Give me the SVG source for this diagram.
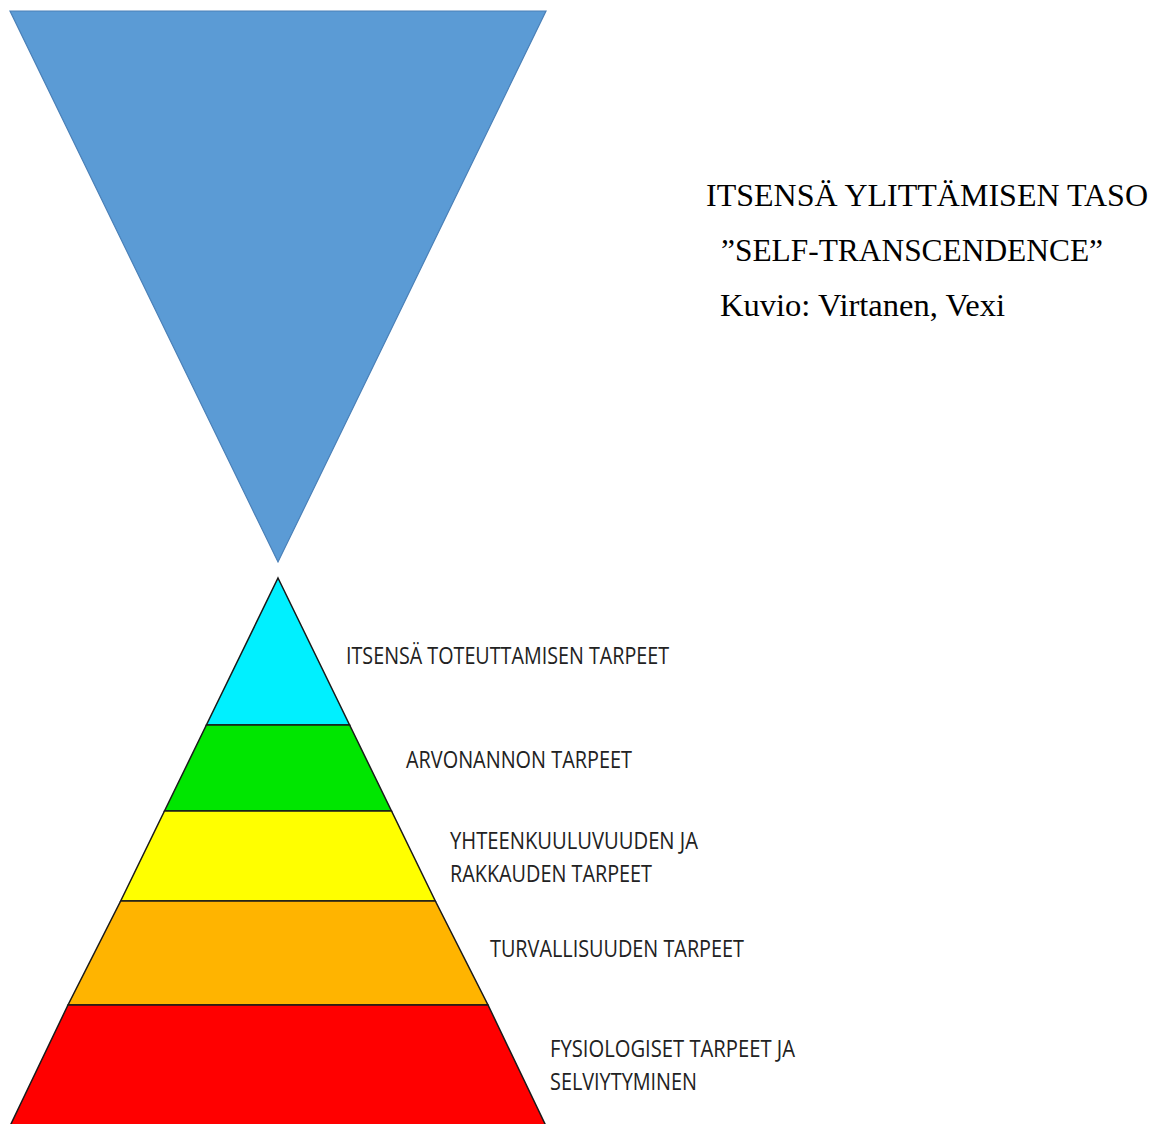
<svg xmlns="http://www.w3.org/2000/svg" width="1154" height="1124" viewBox="0 0 1154 1124">
<style>
.band{stroke:#1a1a1a;stroke-width:1.5;stroke-linejoin:miter}
.lbl{font-family:"Open Sans","DejaVu Sans",sans-serif;font-size:24px;fill:#222}
.ttl{font-family:"Liberation Serif","Times New Roman",serif;font-size:32px;fill:#000}
</style>
<rect width="1154" height="1124" fill="#fff"/>
<g id="inverted-triangle">
<polygon points="10,11 546,11 278,562" fill="#5B9BD5" stroke="#4A80B8" stroke-width="1.2"/>
</g>
<g id="pyramid">
<g id="level5"><polygon class="band" points="278,578 349.6,725 206.4,725" fill="#00F0FF"/></g>
<g id="level4"><polygon class="band" points="206.4,725 349.6,725 391.5,811 164.5,811" fill="#00E600"/></g>
<g id="level3"><polygon class="band" points="164.5,811 391.5,811 435.3,901 120.7,901" fill="#FFFF00"/></g>
<g id="level2"><polygon class="band" points="120.7,901 435.3,901 488,1005 68,1005" fill="#FFB400"/></g>
<g id="level1"><polygon class="band" points="68,1005 488,1005 546,1126 10,1126" fill="#FF0000"/></g>
</g>
<g id="labels">
<text class="lbl" x="346" y="664" textLength="323" lengthAdjust="spacingAndGlyphs">ITSENSÄ TOTEUTTAMISEN TARPEET</text>
<text class="lbl" x="406" y="768" textLength="226" lengthAdjust="spacingAndGlyphs">ARVONANNON TARPEET</text>
<text class="lbl" x="450" y="849" textLength="248" lengthAdjust="spacingAndGlyphs">YHTEENKUULUVUUDEN JA</text>
<text class="lbl" x="450" y="882" textLength="202" lengthAdjust="spacingAndGlyphs">RAKKAUDEN TARPEET</text>
<text class="lbl" x="490" y="957" textLength="254" lengthAdjust="spacingAndGlyphs">TURVALLISUUDEN TARPEET</text>
<text class="lbl" x="550" y="1057" textLength="245" lengthAdjust="spacingAndGlyphs">FYSIOLOGISET TARPEET JA</text>
<text class="lbl" x="550" y="1090" textLength="147" lengthAdjust="spacingAndGlyphs">SELVIYTYMINEN</text>
</g>
<g id="title">
<text class="ttl" x="706" y="206" textLength="442" lengthAdjust="spacingAndGlyphs">ITSENSÄ YLITTÄMISEN TASO</text>
<text class="ttl" x="721" y="261" textLength="382" lengthAdjust="spacingAndGlyphs">”SELF-TRANSCENDENCE”</text>
<text class="ttl" x="720" y="316" textLength="285" lengthAdjust="spacingAndGlyphs">Kuvio: Virtanen, Vexi</text>
</g>
</svg>
